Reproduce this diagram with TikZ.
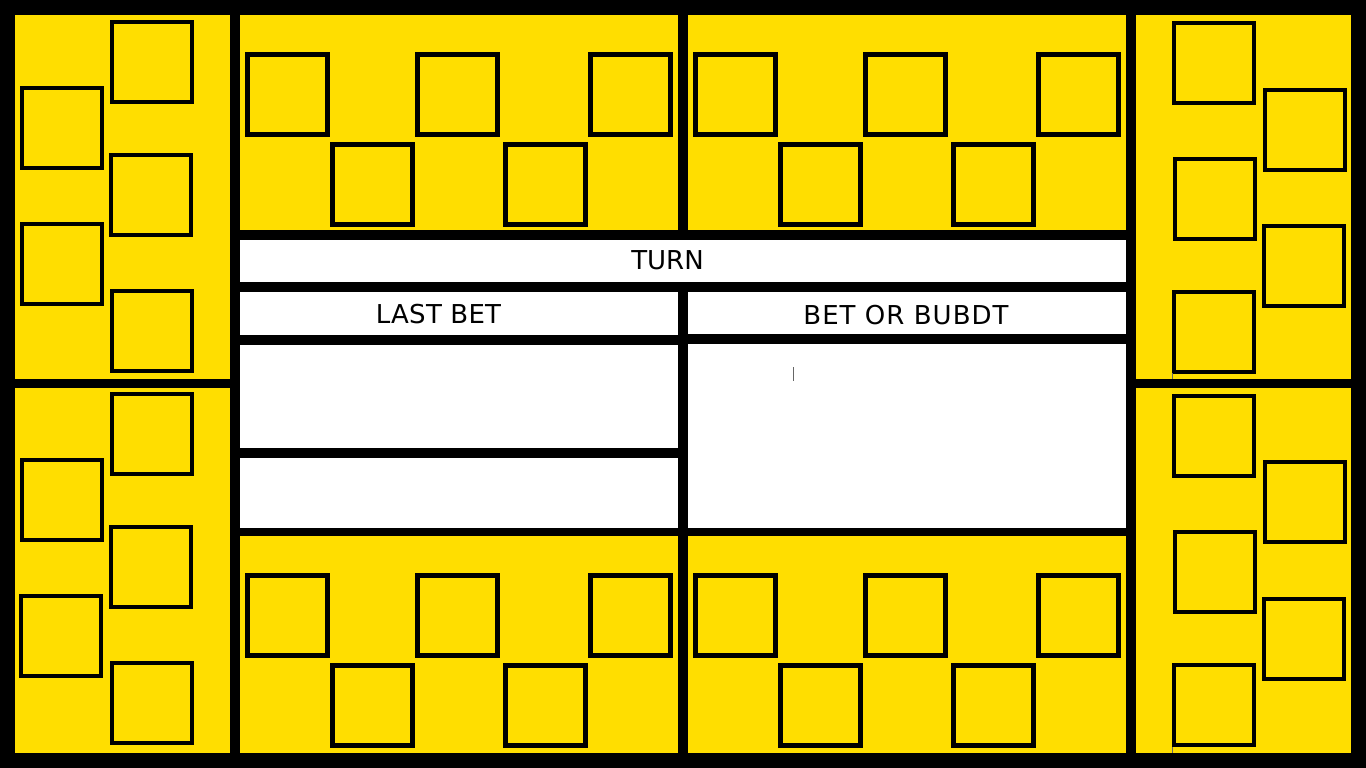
\documentclass[tikz,border=0pt]{standalone}
\usepackage{fontspec}
\setmainfont{DejaVu Sans}
\definecolor{gold}{RGB}{255,222,0}
\tikzset{
  panel/.style={fill=gold},
  field/.style={fill=white},
  sq/.style={draw=black, line width=4.5pt},
  label/.style={font=\fontsize{26}{31}\selectfont, text=black, inner sep=0pt},
  speck/.style={draw=black!60, line width=0.8pt}
}
\newcommand{\boxat}[2]{\draw[sq] (#1,#2) rectangle ++(80,80);}
\begin{document}
\begin{tikzpicture}[x=1pt,y=-1pt]
\useasboundingbox (0,0) rectangle (1366,768);
\fill[black] (0,0) rectangle (1366,768);
% yellow panels
\fill[panel] (15,15) rectangle (230,379);
\fill[panel] (15,388) rectangle (230,753);
\fill[panel] (240,15) rectangle (678,230);
\fill[panel] (688,15) rectangle (1126,230);
\fill[panel] (1136,15) rectangle (1351,379);
\fill[panel] (1136,388) rectangle (1351,753);
\fill[panel] (240,536) rectangle (678,753);
\fill[panel] (688,536) rectangle (1126,753);
% white fields
\fill[field] (240,240) rectangle (1126,282);
\fill[field] (240,292) rectangle (678,335);
\fill[field] (688,292) rectangle (1126,334);
\fill[field] (240,345) rectangle (678,448);
\fill[field] (240,458) rectangle (678,528);
\fill[field] (688,344) rectangle (1126,528);
% left side squares
\boxat{112}{22}\boxat{22}{88}\boxat{111}{155}\boxat{22}{224}\boxat{112}{291}
\boxat{112}{394}\boxat{22}{460}\boxat{111}{527}\boxat{21}{596}\boxat{112}{663}
% right side squares
\boxat{1174}{23}\boxat{1265}{90}\boxat{1175}{159}\boxat{1264}{226}\boxat{1174}{292}
\boxat{1174}{396}\boxat{1265}{462}\boxat{1175}{532}\boxat{1264}{599}\boxat{1174}{665}
% top and bottom sections
\foreach \dx in {0,448}{
  \boxat{247.5+\dx}{54.5}\boxat{417.5+\dx}{54.5}\boxat{590.5+\dx}{54.5}
  \boxat{332.5+\dx}{144.5}\boxat{505.5+\dx}{144.5}
  \boxat{247.5+\dx}{575.5}\boxat{417.5+\dx}{575.5}\boxat{590.5+\dx}{575.5}
  \boxat{332.5+\dx}{665.5}\boxat{505.5+\dx}{665.5}
}
% small marks
\draw[speck] (793,367) -- (793,381);
\draw[speck] (1172.5,373) -- (1172.5,379);
\draw[speck] (1172.5,747) -- (1172.5,753);
% labels
\node[label] (turn) at (667.5,260.5) {TURN};
\node[label] (lastbet) at (438.5,314) {\addfontfeature{LetterSpace=1}LAST BET};
\node[label] (betor) at (906,315.5) {\addfontfeature{LetterSpace=4}BET OR BUBDT};
\end{tikzpicture}
\end{document}
